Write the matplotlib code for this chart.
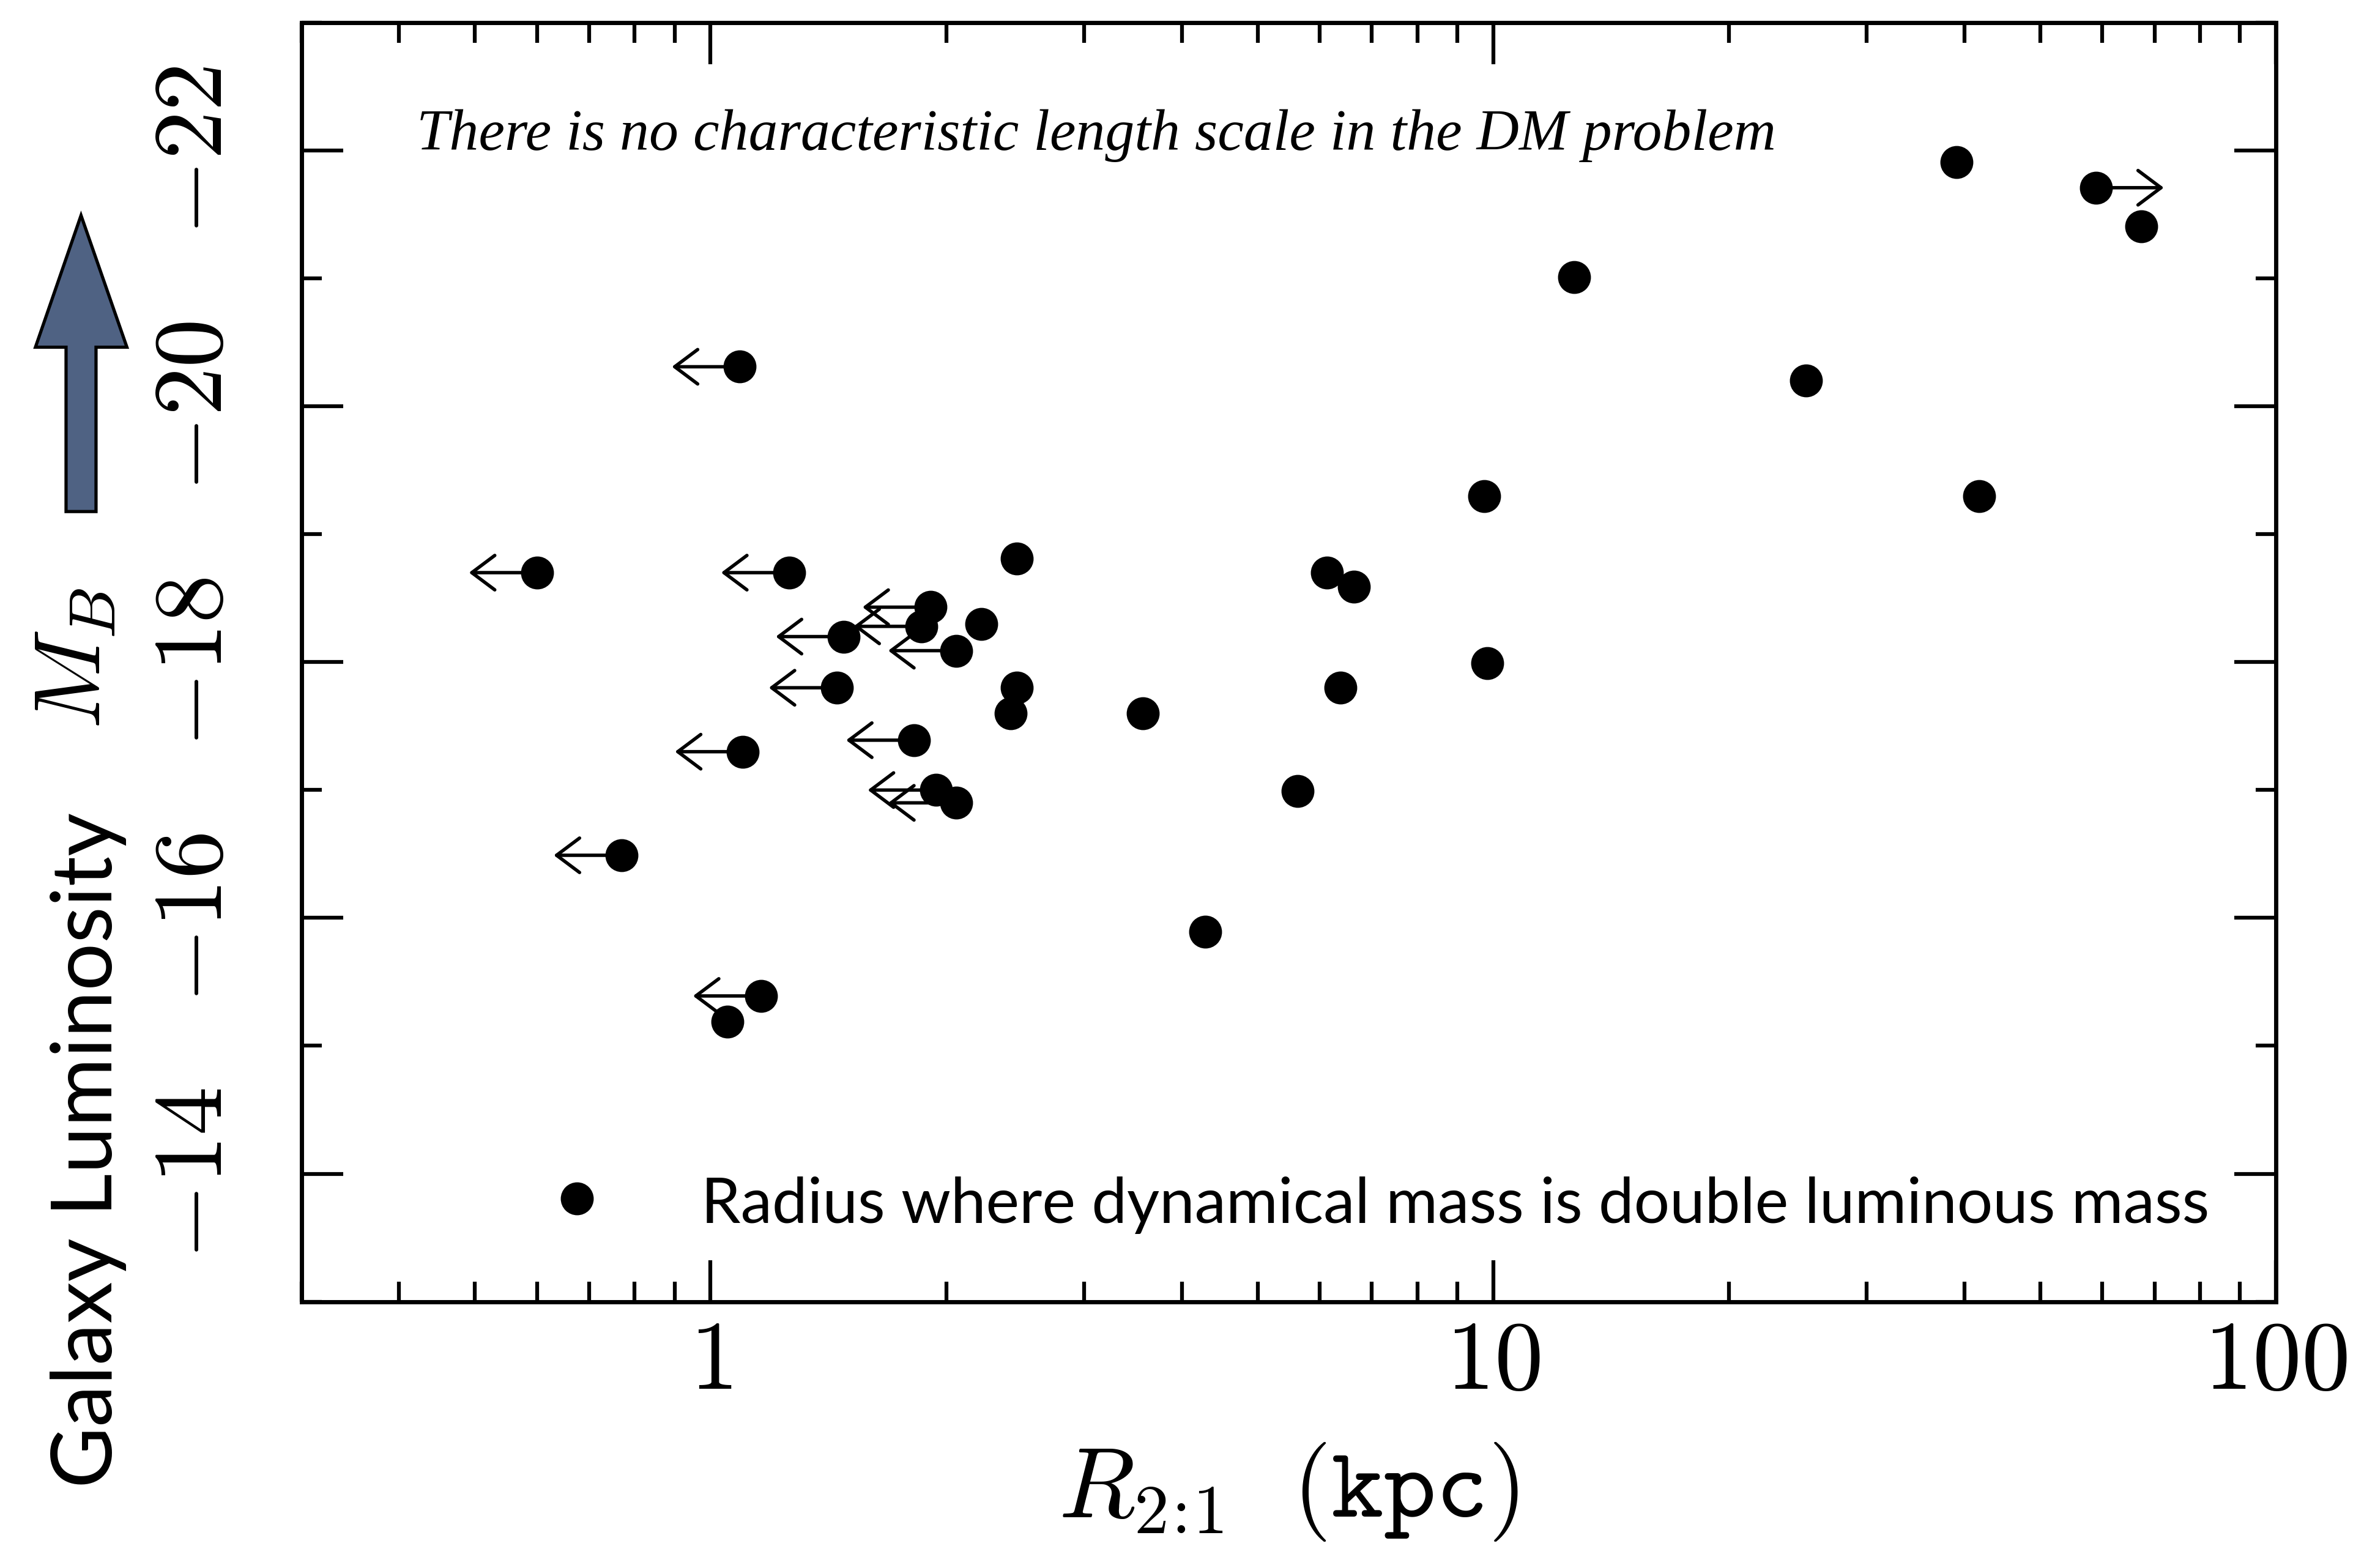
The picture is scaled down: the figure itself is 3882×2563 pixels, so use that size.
import matplotlib
matplotlib.use('Agg')
import matplotlib.pyplot as plt
from matplotlib.ticker import MultipleLocator, LogLocator, NullFormatter
from matplotlib.patches import Polygon

plt.rcParams['mathtext.fontset'] = 'cm'

# R_2:1 (kpc), M_B and whether the point is a limit (arrow direction)
r21 = [39.1, 58.9, 67.3, 12.7, 25.1, 1.09, 9.74, 41.8, 0.60, 1.26, 2.46,
       6.13, 6.64, 1.91, 1.86, 2.22, 1.48, 2.06, 9.82, 1.45, 2.46, 6.38,
       2.42, 3.57, 1.82, 1.10, 5.63, 1.94, 2.06, 0.77, 4.29, 1.16, 1.05]
mb = [-21.91, -21.71, -21.41, -21.01, -20.20, -20.31, -19.30, -19.30,
      -18.70, -18.70, -18.81, -18.70, -18.59, -18.43, -18.28, -18.30,
      -18.20, -18.09, -17.99, -17.80, -17.80, -17.80, -17.60, -17.60,
      -17.39, -17.30, -16.99, -17.00, -16.90, -16.49, -15.89, -15.39, -15.19]
limit = ['', 'right', '', '', '', 'left', '', '', 'left', 'left', '',
         '', '', 'left', 'left', '', 'left', 'left', '', 'left', '', '',
         '', '', 'left', 'left', '', 'left', 'left', 'left', '', 'left', '']

x_ticks = [1, 10, 100]
x_ticklabels = ['$1$', '$10$', '$100$']
y_ticks = [-22, -20, -18, -16, -14]
y_ticklabels = ['$-22$', '$-20$', '$-18$', '$-16$', '$-14$']

title = 'There is no characteristic length scale in the DM problem'
legend_label = 'Radius where dynamical mass is double luminous mass'

fig = plt.figure(figsize=(3882 / 250, 2563 / 250), dpi=250)
ax = fig.add_axes([0.1269, 0.1699, 0.8313, 0.8156])

ax.set_xscale('log')
ax.set_xlim(0.3, 100)
ax.set_ylim(-13, -23)

# limit arrows
for x, y, lim in zip(r21, mb, limit):
    if lim == '':
        continue
    dx = -32 if lim == 'left' else 32
    ax.annotate('', xy=(x, y), xytext=(dx, 0), textcoords='offset points',
                arrowprops=dict(arrowstyle='<-, head_length=0.4, head_width=0.3',
                                mutation_scale=27, lw=1.6, color='k',
                                shrinkA=0, shrinkB=0), zorder=2)

ax.plot(r21, mb, 'o', color='k', ms=14.5, zorder=3)

# legend, drawn by hand
ax.plot([0.1396], [0.0805], 'o', color='k', ms=14.5, transform=ax.transAxes,
        clip_on=False)
leg = ax.text(0.2025, 0.0615, legend_label, transform=ax.transAxes,
              ha='left', va='baseline', family='Lato', fontsize=30)

ttl = ax.text(0.0583, 0.9006, title, transform=ax.transAxes, ha='left',
              va='baseline', family='Liberation Serif', style='italic',
              fontsize=28)

ax.set_xticks(x_ticks, labels=x_ticklabels)
ax.xaxis.set_minor_locator(LogLocator(base=10, subs=range(2, 10)))
ax.xaxis.set_minor_formatter(NullFormatter())
ax.set_yticks(y_ticks, labels=y_ticklabels)
ax.yaxis.set_minor_locator(MultipleLocator(1))

ax.tick_params(which='both', direction='in', top=True, right=True,
               width=1.8, labelsize=46)
ax.tick_params(which='major', length=19.5)
ax.tick_params(which='minor', length=9.5)
ax.tick_params(axis='x', pad=6)
ax.tick_params(axis='y', pad=28)
plt.setp(ax.get_yticklabels(), rotation=90, va='center')
for s in ax.spines.values():
    s.set_linewidth(2.0)

ax.set_xlabel(r'$R_{2\!:\!1}\ \ \mathtt{(kpc)}$', fontsize=47, labelpad=15)

fig.text(0.031, 0.580, '$M_B$', rotation=90, ha='center', va='center',
         fontsize=44)
gal = fig.text(0.0373, 0.2664, 'Galaxy Luminosity', rotation=90,
               ha='center', va='center', family='Lato', fontsize=40)

# big arrow pointing to brighter galaxies
arrow_pts = [(0.02781, 0.67375), (0.04043, 0.67375), (0.04043, 0.77857),
             (0.05344, 0.77857), (0.03412, 0.86264), (0.01492, 0.77857),
             (0.02781, 0.77857)]
fig.patches.append(Polygon(arrow_pts, closed=True, transform=fig.transFigure,
                           facecolor='#4f6283', edgecolor='k', lw=1.5))


def fit(t, target):
    r = fig.canvas.get_renderer()
    bb = t.get_window_extent(r)
    t.set_fontsize(t.get_fontsize() * target / max(bb.width, bb.height))


fig.canvas.draw()
fit(ttl, 2221)
fit(leg, 2464)
fit(gal, 1104)

fig.savefig('out.png', dpi=250, facecolor='white')
